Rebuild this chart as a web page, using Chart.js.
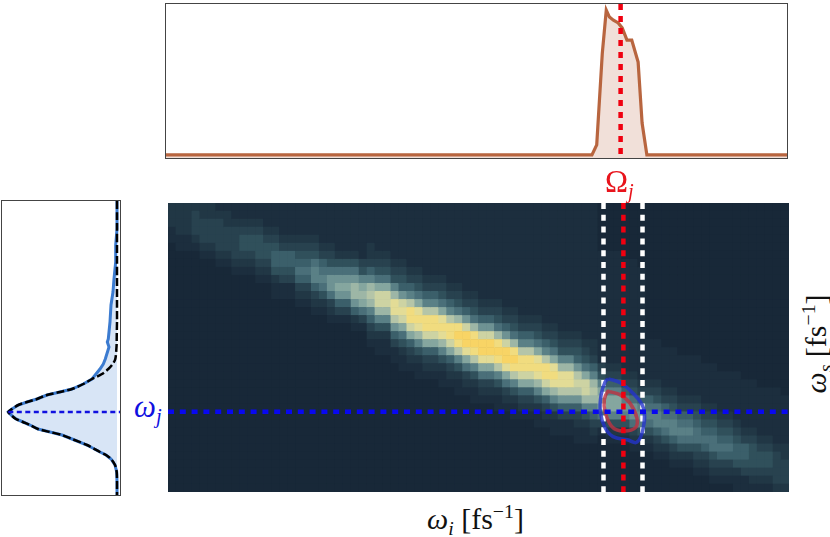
<!DOCTYPE html>
<html>
<head>
<meta charset="utf-8">
<style>
  body { margin: 0; background: #fff; width: 830px; height: 537px; overflow: hidden; position: relative; }
  canvas { position: absolute; }
  #topChart { left: 166px; top: 4px; outline: 1px solid #444; }
  #sideChart { left: 2px; top: 201px; outline: 1px solid #444; }
  #mainChart { left: 168px; top: 203px; background: #182838; }
  .lbl { position: absolute; font-family: "Liberation Serif", serif; white-space: nowrap; line-height: 1; color: #111; }
  .lbl sub { font-size: 0.66em; font-style: italic; line-height: 0; vertical-align: -0.3em; }
  .lbl sup { font-size: 0.66em; line-height: 0; vertical-align: 0.55em; }
</style>
</head>
<body>
<canvas id="topChart" width="621" height="154"></canvas>
<canvas id="sideChart" width="118" height="294"></canvas>
<canvas id="mainChart" width="621" height="289"></canvas>
<span class="lbl" style="left:605px;top:166px;font-size:31px;color:#e8141c">Ω<sub>j</sub></span>
<span class="lbl" style="left:134px;top:391px;font-size:31px;color:#1010e0"><i>ω</i><sub>j</sub></span>
<span class="lbl" style="left:427px;top:504px;font-size:30px"><i>ω</i><sub>i</sub> [fs<sup>−1</sup>]</span>
<span class="lbl" style="left:756px;top:329px;font-size:30px;transform:rotate(-90deg);width:120px;text-align:center"><i>ω</i><sub>s</sub> [fs<sup>−1</sup>]</span>
<script src="https://cdn.jsdelivr.net/npm/chart.js@4"></script>
<script>
// idler marginal
var idlerFreq = [0, 10, 20, 30, 40, 50, 53.5, 54.1, 54.8, 55.3, 55.7, 56.2, 56.8, 57.3, 57.9, 58.5, 59.3, 59.8, 60.4, 65, 70, 78];
var idlerCounts = [0.02, 0.02, 0.02, 0.02, 0.02, 0.02, 0.02, 0.085, 0.68, 0.96, 0.915, 0.895, 0.877, 0.845, 0.766, 0.766, 0.623, 0.227, 0.02, 0.02, 0.02, 0.02];

// signal marginal
var signalFreq = [0, 14, 28, 44, 61, 78, 91, 104, 121, 131, 138, 141, 146, 158, 163, 168, 173, 178, 183, 188, 191, 194, 198, 201, 204, 208, 211, 214, 218, 221, 224, 228, 231, 234, 238, 244, 251, 254, 258, 264, 271, 281, 294];
var signalCounts = [0, 0, 0, 1.3, 1.3, 3, 4, 6, 7, 8, 8.7, 9.7, 8, 11.7, 13.7, 17, 21, 25, 33.7, 45, 57, 70, 80, 90, 98.7, 105, 108.7, 106, 101, 94, 87, 79, 67, 55, 45, 30, 17, 11, 6, 2, 0.3, 0, 0];
var gaussCounts = [0, 0, 0, 0, 0, 0, 0, 0, 0, 0.2, 0.3, 0.3, 0.5, 1.7, 4.3, 8.7, 15, 25, 33.7, 45, 57, 70, 80, 90, 98.7, 105, 108.7, 106, 101, 94, 87, 79, 67, 55, 45, 30, 17, 11, 6, 2, 0.3, 0, 0];

// joint spectrum, intensity level 0-15, one list per column, top cell first
var heatCols = [
[2,2,2,1,1,0,0,0,0,0,0,0,0,0,0,0,0,0,0,0,0,0,0,0,0,0,0,0,0,0,0,0,0,0,0,0],
[2,2,2,2,1,1,0,0,0,0,0,0,0,0,0,0,0,0,0,0,0,0,0,0,0,0,0,0,0,0,0,0,0,0,0,0],
[2,2,2,2,1,1,0,0,0,0,0,0,0,0,0,0,0,0,0,0,0,0,0,0,0,0,0,0,0,0,0,0,0,0,0,0],
[2,3,3,3,2,1,0,0,0,0,0,0,0,0,0,0,0,0,0,0,0,0,0,0,0,0,0,0,0,0,0,0,0,0,0,0],
[2,2,3,3,3,2,1,0,0,0,0,0,0,0,0,0,0,0,0,0,0,0,0,0,0,0,0,0,0,0,0,0,0,0,0,0],
[2,2,3,3,3,2,1,0,0,0,0,0,0,0,0,0,0,0,0,0,0,0,0,0,0,0,0,0,0,0,0,0,0,0,0,0],
[1,2,3,3,3,3,2,1,0,0,0,0,0,0,0,0,0,0,0,0,0,0,0,0,0,0,0,0,0,0,0,0,0,0,0,0],
[1,2,2,3,3,3,2,1,0,0,0,0,0,0,0,0,0,0,0,0,0,0,0,0,0,0,0,0,0,0,0,0,0,0,0,0],
[1,1,2,3,3,3,3,2,1,0,0,0,0,0,0,0,0,0,0,0,0,0,0,0,0,0,0,0,0,0,0,0,0,0,0,0],
[1,1,2,3,4,4,3,2,1,0,0,0,0,0,0,0,0,0,0,0,0,0,0,0,0,0,0,0,0,0,0,0,0,0,0,0],
[1,1,2,3,4,4,3,2,1,0,0,0,0,0,0,0,0,0,0,0,0,0,0,0,0,0,0,0,0,0,0,0,0,0,0,0],
[1,1,2,3,4,4,4,3,2,1,0,0,0,0,0,0,0,0,0,0,0,0,0,0,0,0,0,0,0,0,0,0,0,0,0,0],
[1,1,1,2,3,4,4,3,2,1,0,0,0,0,0,0,0,0,0,0,0,0,0,0,0,0,0,0,0,0,0,0,0,0,0,0],
[1,1,1,2,3,4,5,5,4,2,1,1,0,0,0,0,0,0,0,0,0,0,0,0,0,0,0,0,0,0,0,0,0,0,0,0],
[1,1,1,1,2,3,5,5,4,3,1,1,0,0,0,0,0,0,0,0,0,0,0,0,0,0,0,0,0,0,0,0,0,0,0,0],
[1,1,1,1,2,3,5,5,4,3,1,1,0,0,0,0,0,0,0,0,0,0,0,0,0,0,0,0,0,0,0,0,0,0,0,0],
[1,1,1,1,2,3,4,5,6,5,3,2,1,0,0,0,0,0,0,0,0,0,0,0,0,0,0,0,0,0,0,0,0,0,0,0],
[1,1,1,1,2,3,4,5,6,5,3,2,1,0,0,0,0,0,0,0,0,0,0,0,0,0,0,0,0,0,0,0,0,0,0,0],
[1,1,1,1,2,3,4,6,7,7,5,3,2,1,0,0,0,0,0,0,0,0,0,0,0,0,0,0,0,0,0,0,0,0,0,0],
[1,1,1,1,1,2,3,5,6,7,6,4,2,1,0,0,0,0,0,0,0,0,0,0,0,0,0,0,0,0,0,0,0,0,0,0],
[1,1,1,1,1,2,3,4,6,8,8,6,3,2,1,0,0,0,0,0,0,0,0,0,0,0,0,0,0,0,0,0,0,0,0,0],
[1,1,1,1,1,1,2,4,6,8,9,8,5,3,1,0,0,0,0,0,0,0,0,0,0,0,0,0,0,0,0,0,0,0,0,0],
[1,1,1,1,1,1,2,4,6,8,9,8,5,3,1,0,0,0,0,0,0,0,0,0,0,0,0,0,0,0,0,0,0,0,0,0],
[1,1,1,1,1,1,2,4,6,8,10,10,8,5,2,1,0,0,0,0,0,0,0,0,0,0,0,0,0,0,0,0,0,0,0,0],
[1,1,1,1,1,1,1,3,4,7,9,10,9,6,3,1,0,0,0,0,0,0,0,0,0,0,0,0,0,0,0,0,0,0,0,0],
[1,1,1,1,1,2,2,3,5,7,10,11,10,7,5,3,2,1,0,0,0,0,0,0,0,0,0,0,0,0,0,0,0,0,0,0],
[1,1,1,1,1,1,2,3,4,6,9,12,12,10,7,4,2,1,1,0,0,0,0,0,0,0,0,0,0,0,0,0,0,0,0,0],
[1,1,1,1,1,1,2,3,4,6,9,12,12,10,7,4,2,1,1,0,0,0,0,0,0,0,0,0,0,0,0,0,0,0,0,0],
[1,1,1,1,1,1,1,2,3,4,7,10,13,13,11,8,5,3,1,1,0,0,0,0,0,0,0,0,0,0,0,0,0,0,0,0],
[1,1,1,1,1,1,1,2,3,4,5,8,12,13,12,9,6,4,2,1,1,0,0,0,0,0,0,0,0,0,0,0,0,0,0,0],
[1,1,1,1,1,1,1,1,2,3,5,7,11,14,14,12,9,5,3,2,1,0,0,0,0,0,0,0,0,0,0,0,0,0,0,0],
[1,1,1,1,1,1,1,1,2,3,4,6,9,13,14,13,10,7,4,2,1,1,0,0,0,0,0,0,0,0,0,0,0,0,0,0],
[1,1,1,1,1,1,1,1,1,2,3,5,7,11,14,14,12,9,5,3,2,1,0,0,0,0,0,0,0,0,0,0,0,0,0,0],
[1,1,1,1,1,1,1,1,1,2,3,5,7,11,14,14,12,9,5,3,2,1,0,0,0,0,0,0,0,0,0,0,0,0,0,0],
[1,1,1,1,1,1,1,1,1,2,3,4,6,9,13,14,13,10,7,4,2,1,1,0,0,0,0,0,0,0,0,0,0,0,0,0],
[1,1,1,1,1,1,1,1,1,1,2,3,5,7,11,14,14,12,9,5,3,2,1,0,0,0,0,0,0,0,0,0,0,0,0,0],
[1,1,1,1,1,1,1,1,1,1,2,3,4,6,10,14,15,14,11,7,4,2,1,1,0,0,0,0,0,0,0,0,0,0,0,0],
[1,1,1,1,1,1,1,1,1,1,1,2,3,5,8,12,15,15,13,9,6,3,2,1,0,0,0,0,0,0,0,0,0,0,0,0],
[1,1,1,1,1,1,1,1,1,1,1,2,3,4,6,10,14,15,14,11,7,4,2,1,1,0,0,0,0,0,0,0,0,0,0,0],
[1,1,1,1,1,1,1,1,1,1,1,1,2,3,5,8,12,15,15,13,9,6,3,2,1,0,0,0,0,0,0,0,0,0,0,0],
[1,1,1,1,1,1,1,1,1,1,1,1,2,3,5,8,12,15,15,13,9,6,3,2,1,0,0,0,0,0,0,0,0,0,0,0],
[1,1,1,1,1,1,1,1,1,1,1,1,2,3,4,6,10,14,15,14,11,7,4,2,1,1,0,0,0,0,0,0,0,0,0,0],
[1,1,1,1,1,1,1,1,1,1,1,1,1,2,3,5,8,12,15,15,13,9,6,3,2,1,0,0,0,0,0,0,0,0,0,0],
[1,1,1,1,1,1,1,1,1,1,1,1,1,2,3,4,6,10,14,15,14,11,7,4,2,1,1,0,0,0,0,0,0,0,0,0],
[1,1,1,1,1,1,1,1,1,1,1,1,1,1,2,3,5,7,11,14,14,12,9,5,3,2,1,0,0,0,0,0,0,0,0,0],
[1,1,1,1,1,1,1,1,1,1,1,1,1,1,2,3,5,7,11,14,14,12,9,5,3,2,1,0,0,0,0,0,0,0,0,0],
[1,1,1,1,1,1,1,1,1,1,1,1,1,1,2,3,4,6,9,13,14,13,10,7,4,2,1,1,0,0,0,0,0,0,0,0],
[1,1,1,1,1,1,1,1,1,1,1,1,1,1,1,2,3,5,7,11,14,14,12,9,5,3,2,1,0,0,0,0,0,0,0,0],
[1,1,1,1,1,1,1,1,1,1,1,1,1,1,1,2,3,4,6,9,13,14,13,10,7,4,2,1,1,0,0,0,0,0,0,0],
[1,1,1,1,1,1,1,1,1,1,1,1,1,1,1,1,2,3,4,7,10,13,13,11,8,5,3,1,1,0,0,0,0,0,0,0],
[1,1,1,1,1,1,1,1,1,1,1,1,1,1,1,1,2,3,4,7,10,13,13,11,8,5,3,1,1,0,0,0,0,0,0,0],
[1,1,1,1,1,1,1,1,1,1,1,1,1,1,1,1,2,3,4,5,8,11,12,11,8,5,3,2,1,1,0,0,0,0,0,0],
[1,1,1,1,1,1,1,1,1,1,1,1,1,1,1,1,1,2,3,4,6,9,12,12,10,7,4,2,1,1,0,0,0,0,0,0],
[1,1,1,1,1,1,1,1,1,1,1,1,1,1,1,1,1,2,2,3,5,7,10,11,10,7,5,3,2,1,0,0,0,0,0,0],
[0,0,0,0,0,0,1,1,1,1,1,1,1,1,1,1,1,1,1,1,3,4,7,9,10,9,6,3,1,0,0,0,0,0,0,0],
[0,0,0,0,0,0,1,1,1,1,1,1,1,1,1,1,1,1,1,1,2,3,5,7,9,9,7,4,2,1,0,0,0,0,0,0],
[0,0,0,0,0,0,1,1,1,1,1,1,1,1,1,1,1,1,1,1,2,3,5,7,9,9,7,4,2,1,0,0,0,0,0,0],
[0,0,0,0,0,0,0,1,1,1,1,1,1,1,1,1,1,1,1,1,1,2,3,5,7,8,7,4,2,1,0,0,0,0,0,0],
[0,0,0,0,0,0,0,1,1,1,1,1,1,1,1,1,1,1,1,1,1,2,3,4,6,8,8,6,3,2,1,0,0,0,0,0],
[0,0,0,0,0,0,0,0,1,1,1,1,1,1,1,1,1,1,1,1,1,1,2,3,5,7,8,7,4,2,1,0,0,0,0,0],
[0,0,0,0,0,0,0,0,0,0,0,0,0,0,0,0,0,1,1,1,1,1,2,3,5,6,7,6,4,2,1,0,0,0,0,0],
[0,0,0,0,0,0,0,0,0,0,0,0,0,0,0,0,0,1,1,1,1,1,2,3,4,6,7,7,5,3,2,1,0,0,0,0],
[0,0,0,0,0,0,0,0,0,0,0,0,0,0,0,0,0,0,1,1,1,1,1,2,3,5,6,7,6,4,2,1,0,0,0,0],
[0,0,0,0,0,0,0,0,0,0,0,0,0,0,0,0,0,0,1,1,1,1,1,2,3,4,6,7,7,5,3,2,1,0,0,0],
[0,0,0,0,0,0,0,0,0,0,0,0,0,0,0,0,0,0,0,1,1,1,1,1,2,3,5,6,7,6,4,2,1,0,0,0],
[0,0,0,0,0,0,0,0,0,0,0,0,0,0,0,0,0,0,0,1,1,1,1,1,2,3,5,6,7,6,4,2,1,0,0,0],
[0,0,0,0,0,0,0,0,0,0,0,0,0,0,0,0,0,0,0,1,1,1,1,1,2,3,4,5,6,6,4,3,2,1,0,0],
[0,0,0,0,0,0,0,0,0,0,0,0,0,0,0,0,0,0,0,0,1,1,1,1,1,2,3,4,5,6,5,3,2,1,0,0],
[0,0,0,0,0,0,0,0,0,0,0,0,0,0,0,0,0,0,0,0,1,1,1,1,1,2,3,4,5,6,6,4,3,2,1,0],
[0,0,0,0,0,0,0,0,0,0,0,0,0,0,0,0,0,0,0,0,0,1,1,1,1,1,2,3,4,5,6,5,3,2,1,0],
[0,0,0,0,0,0,0,0,0,0,0,0,0,0,0,0,0,0,0,0,0,1,1,1,1,1,2,3,4,5,6,5,3,2,1,0],
[0,0,0,0,0,0,0,0,0,0,0,0,0,0,0,0,0,0,0,0,0,1,1,1,1,1,1,2,3,4,5,5,4,2,1,1],
[0,0,0,0,0,0,0,0,0,0,0,0,0,0,0,0,0,0,0,0,0,0,1,1,1,1,1,1,2,3,5,5,4,3,1,1],
[0,0,0,0,0,0,0,0,0,0,0,0,0,0,0,0,0,0,0,0,0,0,1,1,1,1,1,1,2,3,4,4,4,3,2,1],
[0,0,0,0,0,0,0,0,0,0,0,0,0,0,0,0,0,0,0,0,0,0,0,1,1,1,1,1,1,2,3,4,4,3,2,1],
[0,0,0,0,0,0,0,0,0,0,0,0,0,0,0,0,0,0,0,0,0,0,0,1,1,1,1,1,1,2,3,4,4,3,2,1],
[0,0,0,0,0,0,0,0,0,0,0,0,0,0,0,0,0,0,0,0,0,0,0,1,1,1,1,1,1,1,2,3,3,3,3,2],
[0,0,0,0,0,0,0,0,0,0,0,0,0,0,0,0,0,0,0,0,0,0,0,0,1,1,1,1,1,1,2,2,3,3,3,2]
];

// contours around the selected bin, and the marker lines
var blueContourX = [55.3, 56.8, 58.4, 59.7, 59.7, 58.9, 57.7, 55.9, 54.9, 54.3, 54.4, 54.9, 55.3];
var blueContourY = [21.9, 22.4, 23.7, 25.5, 28.0, 29.8, 29.5, 29.1, 28.0, 26.0, 23.9, 22.3, 21.9];
var redContourX = [55.5, 56.8, 58.0, 58.9, 58.7, 57.2, 55.8, 54.9, 54.8, 55.2, 55.5];
var redContourY = [23.5, 23.9, 24.9, 26.8, 28.0, 28.4, 27.9, 26.0, 24.5, 23.5, 23.5];
var binEdges = [54.7, 59.6];
var binCentre = 57.2;
var signalCentre = 26.0;

var palette = ["#182838", "#1c2e3e", "#213745", "#28424f", "#30505b", "#3b5f6a", "#4a6f79", "#5a8086",
               "#6e9293", "#85a69f", "#9db6a6", "#b5c5a8", "#cdd3a3", "#e3dc96", "#f1dc7f", "#f8d465"];

function zip(xs, ys) {
  return xs.map(function(x, i) { return {x: x, y: ys[i]}; });
}

function hiddenScale(min, max, reverse) {
  return {type: "linear", display: false, min: min, max: max, reverse: !!reverse};
}

function baseOptions(scales) {
  return {
    responsive: false,
    animation: false,
    events: [],
    layout: {padding: 0, autoPadding: false},
    plugins: {legend: {display: false}, tooltip: {enabled: false}},
    scales: scales
  };
}

// top panel
new Chart(document.getElementById("topChart").getContext("2d"), {
  type: "line",
  data: {datasets: [
    {data: [{x: binCentre - 0.1, y: 1}, {x: binCentre - 0.1, y: 0}], borderColor: "#f00010", borderWidth: 4.5,
     borderDash: [6, 6], pointRadius: 0, order: 1},
    {data: zip(idlerFreq, idlerCounts), borderColor: "#b8653f", borderWidth: 3.2, pointRadius: 0,
     backgroundColor: "rgba(184,101,63,0.2)", fill: "origin", order: 2}
  ]},
  options: baseOptions({x: hiddenScale(0, 78), y: hiddenScale(0, 1)})
});

// left panel
new Chart(document.getElementById("sideChart").getContext("2d"), {
  type: "line",
  data: {datasets: [
    {data: [{x: 108.7, y: 211}, {x: -3, y: 211}], borderColor: "#1010e0", borderWidth: 2.4,
     borderDash: [5, 3.5], pointRadius: 0, order: 1},
    {data: zip(gaussCounts, signalFreq), borderColor: "#000", borderWidth: 2.5, borderDash: [8, 3],
     pointRadius: 0, tension: 0.3, order: 2},
    {data: zip(signalCounts, signalFreq), borderColor: "#3b7bd0", borderWidth: 3, pointRadius: 0,
     backgroundColor: "rgba(59,123,208,0.2)", fill: "origin", order: 3}
  ]},
  options: Object.assign(baseOptions({x: hiddenScale(-3, 115, true), y: hiddenScale(0, 294, true)}), {indexAxis: "y"})
});

// heat map cells as square points
var cells = [];
var cellColours = [];
heatCols.forEach(function(col, i) {
  col.forEach(function(level, j) {
    cells.push({x: i + 0.5, y: j + 0.5});
    cellColours.push(palette[level]);
  });
});

function vLine(x, colour, order) {
  return {data: [{x: x, y: 0}, {x: x, y: 36}], showLine: true, borderColor: colour, borderWidth: 4.5,
          borderDash: [6, 5.8], pointRadius: 0, order: order};
}

new Chart(document.getElementById("mainChart").getContext("2d"), {
  type: "scatter",
  data: {datasets: [
    {data: [{x: 0, y: signalCentre}, {x: 78, y: signalCentre}], showLine: true, borderColor: "#0808f0", borderWidth: 4.5,
     borderDash: [6, 5.8], pointRadius: 0, order: 1},
    vLine(binCentre, "#f00010", 2),
    {data: zip(redContourX, redContourY), showLine: true, borderColor: "rgba(190,50,65,0.8)", borderWidth: 3.5,
     tension: 0.4, pointRadius: 0, order: 3},
    {data: zip(blueContourX, blueContourY), showLine: true, borderColor: "rgba(35,50,205,0.78)", borderWidth: 3.5,
     tension: 0.4, pointRadius: 0, order: 4},
    vLine(binEdges[0], "#fff", 5),
    vLine(binEdges[1], "#fff", 6),
    {data: cells, pointStyle: "rect", pointRadius: 6.1, pointBorderWidth: 0,
     pointBackgroundColor: cellColours, showLine: false, order: 7}
  ]},
  options: baseOptions({x: hiddenScale(0, 78), y: hiddenScale(0, 36, true)})
});
</script>
</body>
</html>
